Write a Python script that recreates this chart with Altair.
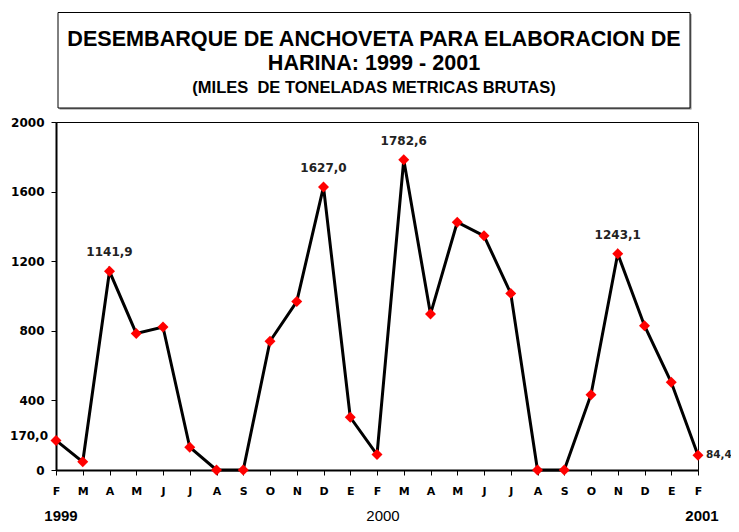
import altair as alt
import pandas as pd

months = ["F", "M", "A", "M", "J", "J", "A", "S", "O", "N", "D", "E",
          "F", "M", "A", "M", "J", "J", "A", "S", "O", "N", "D", "E", "F"]
values = [170.0, 47, 1141.9, 785, 822, 131, 0, 0, 740, 968, 1627.0, 303,
          89, 1782.6, 896, 1424, 1346, 1015, 0, 0, 433, 1243.1, 829, 504, 84.4]
peak_idx = [2, 10, 13, 21]
peak_text = ["1141,9", "1627,0", "1782,6", "1243,1"]
start_text = "170,0"
end_text = "84,4"
y_ticks = [0, 400, 800, 1200, 1600, 2000]
years = ["1999", "2000", "2001"]
title_lines = ["DESEMBARQUE DE ANCHOVETA PARA ELABORACION DE",
               "HARINA: 1999 - 2001",
               "(MILES \u00a0DE TONELADAS METRICAS BRUTAS)"]

idx = list(range(len(values)))
df = pd.DataFrame({"i": idx, "v": values})
df_peaks = pd.DataFrame({"i": peak_idx, "v": [values[k] for k in peak_idx], "t": peak_text})
df_start = pd.DataFrame({"i": [0], "v": [values[0]], "t": [start_text]})
df_end = pd.DataFrame({"i": [len(values) - 1], "v": [values[-1]], "t": [end_text]})
one = pd.DataFrame({"a": [0]})

label_expr = "[" + ",".join("'%s'" % m for m in months) + "][datum.value]"

xscale = alt.Scale(type="point", domain=idx, padding=0)
xaxis = alt.Axis(labelExpr=label_expr,
                 labelFont="DejaVu Sans", labelFontWeight="bold", labelFontSize=11,
                 labelColor="black", tickColor="black", tickSize=5, tickWidth=1,
                 domainColor="black", domainWidth=2, grid=False, title=None,
                 labelPadding=10, labelAngle=0, labelOverlap=False)
yscale = alt.Scale(domain=[0, 2000], nice=False)
yaxis = alt.Axis(values=y_ticks, format="d",
                 labelFont="DejaVu Sans", labelFontWeight="bold", labelFontSize=12,
                 labelColor="black", tickColor="black", tickSize=5, tickWidth=1,
                 domainColor="black", domainWidth=2, grid=False, title=None,
                 labelPadding=7, labelOverlap=False, labelFlush=False)


def X():
    return alt.X("i:O", scale=xscale, axis=xaxis)


def Y():
    return alt.Y("v:Q", scale=yscale, axis=yaxis)


line = alt.Chart(df).mark_line(color="black", strokeWidth=3).encode(x=X(), y=Y())
pts = alt.Chart(df).mark_point(shape="diamond", filled=True, color="#ff0000", size=120,
                               opacity=1).encode(x=X(), y=Y())
peaks = alt.Chart(df_peaks).mark_text(font="DejaVu Sans", fontWeight="bold", fontSize=12,
                                      color="#222", dy=-19).encode(x=X(), y=Y(), text="t:N")
startl = alt.Chart(df_start).mark_text(font="DejaVu Sans", fontWeight="bold", fontSize=12,
                                       color="black", align="right", dx=-8, dy=-4).encode(
    x=X(), y=Y(), text="t:N")
endl = alt.Chart(df_end).mark_text(font="DejaVu Sans", fontWeight="bold", fontSize=10.5,
                                   color="#222", align="left", dx=8).encode(x=X(), y=Y(), text="t:N")

shadow = alt.Chart(one).mark_rect(fill="#888888").encode(
    x=alt.value(3.5), x2=alt.value(635.5), y=alt.value(-108), y2=alt.value(-12.5))
box = alt.Chart(one).mark_rect(fill="white", stroke="black", strokeWidth=1).encode(
    x=alt.value(2), x2=alt.value(634), y=alt.value(-109.5), y2=alt.value(-14))
t1 = alt.Chart(one).mark_text(text=title_lines[0], font="Liberation Sans", fontWeight="bold",
                              fontSize=21.6, color="black").encode(x=alt.value(318), y=alt.value(-82))
t2 = alt.Chart(one).mark_text(text=title_lines[1], font="Liberation Sans", fontWeight="bold",
                              fontSize=21.6, color="black").encode(x=alt.value(318), y=alt.value(-58))
t3 = alt.Chart(one).mark_text(text=title_lines[2], font="Liberation Sans", fontWeight="bold",
                              fontSize=16.5, color="black").encode(x=alt.value(318), y=alt.value(-34))

y1999 = alt.Chart(one).mark_text(text=years[0], font="Liberation Sans", fontWeight="bold",
                                 fontSize=15, color="black", baseline="bottom").encode(
    x=alt.value(5), y=alt.value(401.5))
y2000 = alt.Chart(one).mark_text(text=years[1], font="Liberation Sans", fontSize=15,
                                 color="black", baseline="bottom").encode(
    x=alt.value(327), y=alt.value(401.5))
y2001 = alt.Chart(one).mark_text(text=years[2], font="Liberation Sans", fontWeight="bold",
                                 fontSize=15, color="black", baseline="bottom").encode(
    x=alt.value(646), y=alt.value(401.5))

chart = alt.layer(shadow, box, t1, t2, t3, line, pts, peaks, startl, endl,
                  y1999, y2000, y2001).properties(
    width=642, height=348,
    padding={"left": 48, "top": 114, "right": 33, "bottom": 54},
    autosize=alt.AutoSizeParams(type="none"),
    background="white",
).configure_view(stroke="black", strokeWidth=1)

chart.save("out.html", embed_options={"renderer": "svg", "actions": False})
